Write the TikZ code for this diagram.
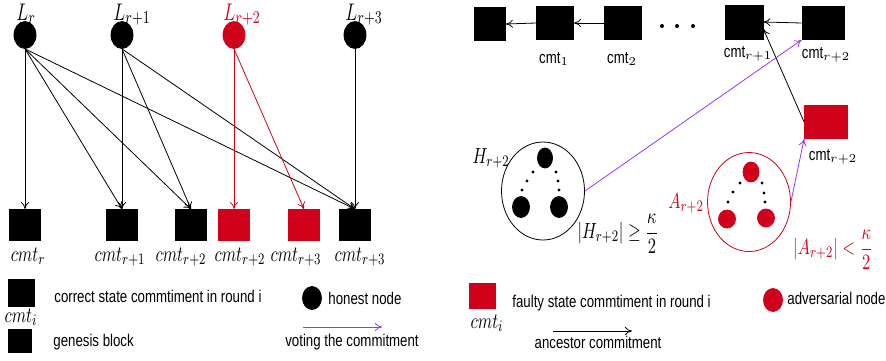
\documentclass[tikz,border=0pt]{standalone}
\usepackage{amsmath}
\usepackage{xcolor}
\usepackage{fontspec}
\setsansfont{Liberation Sans}[FakeStretch=0.78]
\usepackage{tikz}
\usetikzlibrary{calc, arrows.meta, positioning, shapes}

\definecolor{faulty}{RGB}{208,2,27}
\definecolor{voting}{RGB}{153,51,255}
\newcommand{\condense}[1]{\scalebox{0.75}[1]{#1}}

\begin{document}
\begin{tikzpicture}[x=0.5pt, y=-0.5pt, >={To[length=3.5pt, width=4pt]}]
		\tikzstyle{leader} = [draw=black, fill=black, ellipse, inner sep=0pt, minimum width=11pt, minimum height=13.5pt]
		\tikzstyle{block} = [draw=black, fill=black, rectangle, inner sep=0pt, minimum width=15.5pt, minimum height=15.5pt]
		\tikzstyle{red} = [draw=faulty, fill=faulty]
		\tikzstyle{mlabel} = [anchor=base, inner sep=0pt, font=\fontsize{11}{13}\selectfont]
		\tikzstyle{legend} = [anchor=base west, inner sep=0pt, font=\sffamily\fontsize{8.5}{10}\selectfont]
		\tikzstyle{arrow} = [thin, ->]
		\tikzstyle{vote} = [thin, ->, draw=voting]

		\useasboundingbox (0, 0) rectangle (886, 360);

		% leaders of rounds r .. r+3
		\node[leader]		at (25, 35)		(l0)	{};
		\node[leader]		at (122, 35)	(l1)	{};
		\node[leader, red]	at (234, 35)	(l2)	{};
		\node[leader]		at (355, 35)	(l3)	{};

		\node[mlabel, font=\fontsize{13}{15}\selectfont]				at (26, 20)		(tl0)	{\condense{$L_r$}};
		\node[mlabel, font=\fontsize{13}{15}\selectfont]				at (132, 20)	(tl1)	{\condense{$L_{r+1}$}};
		\node[mlabel, font=\fontsize{13}{15}\selectfont, text=faulty]	at (242, 20)	(tl2)	{\condense{$L_{r+2}$}};
		\node[mlabel, font=\fontsize{13}{15}\selectfont]				at (364, 20)	(tl3)	{\condense{$L_{r+3}$}};

		% commitments
		\node[block]		at (25, 225)	(c0)	{};
		\node[block]		at (122, 225)	(c1)	{};
		\node[block]		at (191, 225)	(c2)	{};
		\node[block, red]	at (234, 225)	(c3)	{};
		\node[block, red]	at (304, 225)	(c4)	{};
		\node[block]		at (355, 225)	(c5)	{};

		\node[mlabel]	at (28, 261)	(tc0)	{\condense{$cmt_r$}};
		\node[mlabel]	at (120, 261)	(tc1)	{\condense{$cmt_{r+1}$}};
		\node[mlabel]	at (181, 261)	(tc2)	{\condense{$cmt_{r+2}$}};
		\node[mlabel]	at (240, 261)	(tc3)	{\condense{$cmt_{r+2}$}};
		\node[mlabel]	at (296, 261)	(tc4)	{\condense{$cmt_{r+3}$}};
		\node[mlabel]	at (360, 261)	(tc5)	{\condense{$cmt_{r+3}$}};

		\draw [arrow] (l0.south) -- (c0.north);
		\draw [arrow] (l0.south) -- (c1.north);
		\draw [arrow] (l0.south) -- (c2.north);
		\draw [arrow] (l0.south) -- (c5.north);
		\draw [arrow] (l1.south) -- (c1.north);
		\draw [arrow] (l1.south) -- (c2.north);
		\draw [arrow] (l1.south) -- (c5.north);
		\draw [arrow, draw=faulty] (l2.south) -- (c3.north);
		\draw [arrow, draw=faulty] (l2.south) -- (c4.north);
		\draw [arrow] (l3.south) -- (c5.north);

		% chain
		\node[block, minimum width=15.5pt, minimum height=16.5pt]	at (490, 24)	(b0)	{};
		\node[block, minimum width=18.5pt, minimum height=16.5pt]	at (555, 23)	(b1)	{};
		\node[block, minimum width=18.5pt, minimum height=16.5pt]	at (623, 23)	(b2)	{};
		\node[block, minimum width=19pt, minimum height=17pt]		at (744, 22)	(b3)	{};
		\node[block, minimum width=21pt, minimum height=16.5pt]		at (823, 23)	(b4)	{};
		\node[block, red, minimum width=21.5pt, minimum height=16.5pt]	at (826, 122)	(f4)	{};

		\fill (662, 26) circle (1pt) (677, 26) circle (1pt) (693, 26) circle (1pt);

		\node[legend, anchor=base]	at (554, 63)	(tb1)	{cmt$_1$};
		\node[legend, anchor=base]	at (622, 63)	(tb2)	{cmt$_2$};
		\node[legend, anchor=base]	at (748, 57)	(tb3)	{cmt$_{r+1}$};
		\node[legend, anchor=base]	at (826, 58)	(tb4)	{cmt$_{r+2}$};
		\node[legend, anchor=base]	at (833, 160)	(tf4)	{cmt$_{r+2}$};

		\draw [arrow] (b1.west) -- (b0.east);
		\draw [arrow] (b2.west) -- (b1.east);
		\draw [arrow] (b4.west) -- (b3.east);
		\draw [arrow] (f4.west) -- (b3.-20);

		% honest and adversarial sets
		\node[draw=black, ellipse, minimum width=41.5pt, minimum height=49pt]	at (543, 191)	(hset)	{};
		\node[leader, minimum width=7.5pt, minimum height=10pt]		at (545, 158)	(h0)	{};
		\node[leader, minimum width=8.5pt, minimum height=10.5pt]	at (521, 207)	(h1)	{};
		\node[leader, minimum width=8.5pt, minimum height=10.5pt]	at (559, 207)	(h2)	{};
		\fill (533, 172) circle (0.8pt) (527, 181) circle (0.8pt) (522, 190) circle (0.8pt)
			(556, 172) circle (0.8pt) (558, 181) circle (0.8pt) (559, 190) circle (0.8pt);

		\node[draw=faulty, ellipse, minimum width=41.5pt, minimum height=49.5pt]	at (749, 202)	(aset)	{};
		\node[leader, red, minimum width=8pt, minimum height=10pt]	at (751, 172)	(a0)	{};
		\node[leader, red, minimum width=8.5pt, minimum height=9pt]	at (727, 219)	(a1)	{};
		\node[leader, red, minimum width=8.5pt, minimum height=9pt]	at (766, 218)	(a2)	{};
		\fill (740, 183) circle (0.8pt) (733, 192) circle (0.8pt) (728, 202) circle (0.8pt)
			(762, 183) circle (0.8pt) (764, 193) circle (0.8pt) (765, 202) circle (0.8pt);

		\node[mlabel]					at (491, 163)	(th)	{\condense{$H_{r+2}$}};
		\node[mlabel, text=faulty]		at (686, 208)	(ta)	{\condense{$A_{r+2}$}};
		\node[mlabel, anchor=center]	at (618, 234)	(thk)	{\condense{$|H_{r+2}| \geq \dfrac{\kappa}{2}$}};
		\node[mlabel, anchor=center, text=faulty]	at (833, 250)	(tak)	{\condense{$|A_{r+2}| < \dfrac{\kappa}{2}$}};

		\draw [vote] (hset.east) -- (b4.south west);
		\draw [vote] (aset.east) -- (f4.south west);

		% legend
		\node[block, minimum width=13pt, minimum height=13.5pt]		at (21, 293)	(k0)	{};
		\node[mlabel]	at (21, 322)	(tk0)	{\condense{$cmt_i$}};
		\node[legend]	at (54, 302)	(tk1)	{correct state commtiment in round i};
		\node[block, minimum width=11.5pt, minimum height=11.5pt]	at (20, 341)	(k1)	{};
		\node[legend]	at (53, 346)	(tk2)	{genesis block};
		\node[leader, minimum width=9.5pt, minimum height=11.5pt]	at (312, 298)	(k2)	{};
		\node[legend]	at (328, 304)	(tk3)	{honest node};
		\coordinate (v0) at (303, 327);
		\coordinate (v1) at (382, 327);
		\draw [vote] (v0) -- (v1);
		\node[legend, anchor=base]	at (352, 346)	(tk4)	{voting the commitment};

		\node[block, red, minimum width=13pt, minimum height=12.5pt]	at (482, 296)	(k3)	{};
		\node[mlabel]	at (487, 328)	(tk5)	{\condense{$cmt_i$}};
		\node[legend]	at (512, 307)	(tk6)	{faulty state commtiment in round i};
		\node[leader, red, minimum width=9.5pt, minimum height=11.5pt]	at (773, 300)	(k4)	{};
		\node[legend]	at (787, 304)	(tk7)	{adversarial node};
		\coordinate (n0) at (553, 331);
		\coordinate (n1) at (632, 331);
		\draw [arrow] (n0) -- (n1);
		\node[legend, anchor=base]	at (598, 348)	(tk8)	{ancestor commitment};
	\end{tikzpicture}
\end{document}
